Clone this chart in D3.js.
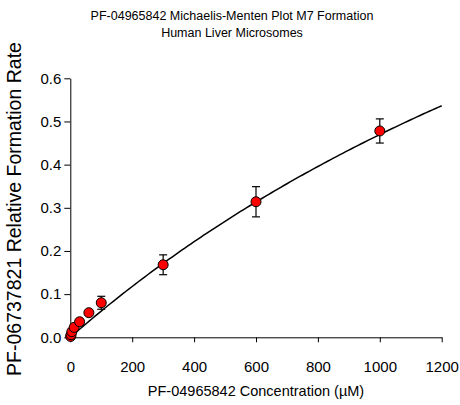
<!DOCTYPE html>
<html>
<head>
<meta charset="utf-8">
<script src="https://cdn.jsdelivr.net/npm/d3@7"></script>
<style>
  body { margin: 0; background: #fff; }
  svg { display: block; font-family: "Liberation Sans", Arial, sans-serif; }
  .axis path, .axis line { stroke: #000; }
  .axis text { font-size: 15px; fill: #000; }
</style>
</head>
<body>
<svg id="chart" width="460" height="405"></svg>
<script>
  /*
    Data
  */
  const conc = [1, 2.5, 5, 12.5, 30, 60, 100, 300, 600, 1000];
  const rate = [0.002, 0.006, 0.013, 0.023, 0.036, 0.057, 0.080, 0.168, 0.314, 0.478];
  const rateErr = [0.001, 0.002, 0.003, 0.004, 0.004, 0.005, 0.015, 0.023, 0.035, 0.028];
  const xTicks = [0, 200, 400, 600, 800, 1000, 1200];
  const yTicks = [0.0, 0.1, 0.2, 0.3, 0.4, 0.5, 0.6];
  // fitted Michaelis-Menten parameters
  const Vmax = 1.86;
  const Km = 2960;

  /*
    Scales
  */
  let svg = d3.select("#chart");
  let x = d3.scaleLinear().domain([0, 1200]).range([70.3, 441.7]);
  let y = d3.scaleLinear().domain([0, 0.6]).range([337.3, 78.3]);

  // titles
  let title = svg.append("text")
    .attr("text-anchor", "middle")
    .style("font-size", "12.5px");
  title.append("tspan").attr("x", 232).attr("y", 20).text("PF-04965842 Michaelis-Menten Plot M7 Formation");
  title.append("tspan").attr("x", 232).attr("y", 37).text("Human Liver Microsomes");

  // axes
  svg.append("g")
    .attr("class", "axis")
    .attr("transform", "translate(0," + y(0) + ")")
    .call(d3.axisBottom(x).tickValues(xTicks).tickSize(5).tickSizeOuter(0).tickPadding(19).tickFormat(d3.format("d")));

  svg.append("g")
    .attr("class", "axis")
    .attr("transform", "translate(" + x(0) + ",0)")
    .call(d3.axisLeft(y).tickValues(yTicks).tickSize(6).tickSizeOuter(0).tickPadding(3).tickFormat(d3.format(".1f")));

  svg.append("text")
    .attr("x", 256)
    .attr("y", 396)
    .attr("text-anchor", "middle")
    .style("font-size", "14.5px")
    .text("PF-04965842 Concentration (µM)");

  svg.append("text")
    .attr("transform", "translate(21,209) rotate(-90)")
    .attr("text-anchor", "middle")
    .style("font-size", "19.5px")
    .text("PF-06737821 Relative Formation Rate");

  // fitted curve
  let fit = d3.range(0, 1201, 10).map(function (s) {
    return { s: s, v: Vmax * s / (Km + s) };
  });
  let lineGen = d3.line()
    .x(function (d) { return x(d.s); })
    .y(function (d) { return y(d.v); });

  svg.append("path")
    .datum(fit)
    .attr("d", lineGen)
    .attr("fill", "none")
    .attr("stroke", "#000")
    .attr("stroke-width", 1.5);

  // error bars
  let pts = conc.map(function (c, i) {
    return { c: c, v: rate[i], e: rateErr[i] };
  });
  let bars = svg.append("g").attr("stroke", "#000").attr("stroke-width", 1.2);
  pts.forEach(function (d) {
    let px = x(d.c);
    bars.append("line").attr("x1", px).attr("x2", px).attr("y1", y(d.v - d.e)).attr("y2", y(d.v + d.e));
    bars.append("line").attr("x1", px - 4).attr("x2", px + 4).attr("y1", y(d.v - d.e)).attr("y2", y(d.v - d.e));
    bars.append("line").attr("x1", px - 4).attr("x2", px + 4).attr("y1", y(d.v + d.e)).attr("y2", y(d.v + d.e));
  });

  // points
  svg.append("g")
    .selectAll("circle")
    .data(pts)
    .enter()
    .append("circle")
    .attr("cx", function (d) { return x(d.c); })
    .attr("cy", function (d) { return y(d.v); })
    .attr("r", 5)
    .attr("fill", "#ff0000")
    .attr("stroke", "#000")
    .attr("stroke-width", 1);
</script>
</body>
</html>
